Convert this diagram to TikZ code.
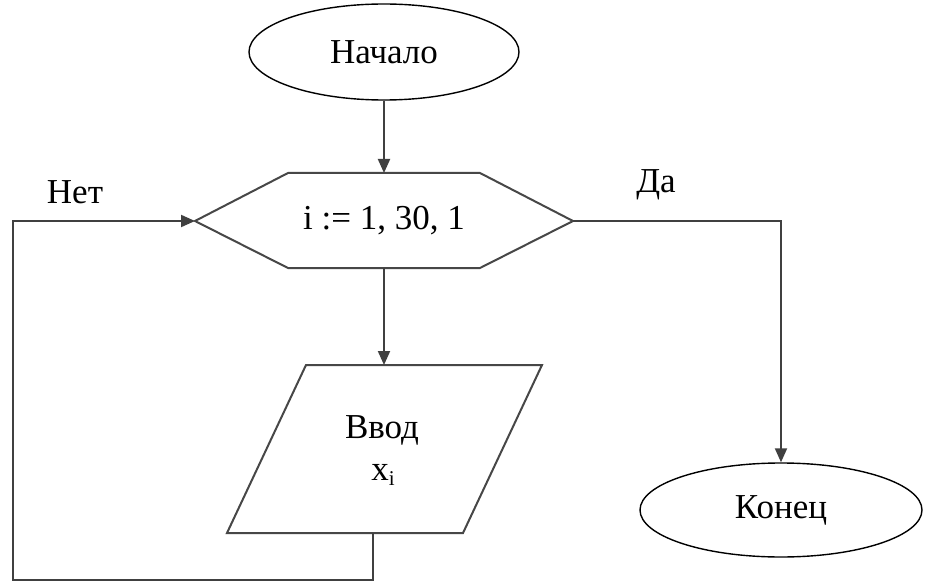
\documentclass[tikz,border=0pt]{standalone}
\usepackage{fontspec}
\setmainfont{Liberation Serif}
\usetikzlibrary{shapes.geometric,arrows.meta}
\begin{document}
\begin{tikzpicture}[x=1pt,y=-1pt,
  term/.style={ellipse,draw=black,line width=1.4pt,inner sep=0pt,font=\fontsize{35}{40}\selectfont},
  txt/.style={inner sep=0pt,font=\fontsize{35}{40}\selectfont},
  shapeline/.style={draw=black!72,line width=2pt,line join=miter},
  conn/.style={draw=black!75,line width=2pt},
  arr/.style={conn,-{Triangle[length=14pt,width=12pt]}}]
\useasboundingbox (0,0) rectangle (927,583);
\fill[white] (0,0) rectangle (927,583);
% start
\node[term,minimum width=270pt,minimum height=96pt] (start) at (384,52) {Начало};
% hexagon
\coordinate (hL) at (195,221);
\coordinate (hTL) at (288,173);
\coordinate (hT) at (384,173);
\coordinate (hTR) at (480,173);
\coordinate (hR) at (573,221);
\coordinate (hBR) at (480,268);
\coordinate (hB) at (384,268);
\coordinate (hBL) at (288,268);
\draw[shapeline] (hL) -- (hTL) -- (hTR) -- (hR) -- (hBR) -- (hBL) -- cycle;
\node[txt] (loop) at (384,221) {i := 1, 30, 1};
% parallelogram
\coordinate (pTL) at (306,365);
\coordinate (pT) at (384,365);
\coordinate (pTR) at (542,365);
\coordinate (pBR) at (463,533);
\coordinate (pB) at (373,533);
\coordinate (pBL) at (227,533);
\draw[shapeline] (pTL) -- (pTR) -- (pBR) -- (pBL) -- cycle;
\node[txt] (inp) at (382,430) {Ввод};
\node[txt] (xi) at (383,475) {x\raisebox{-5pt}{\fontsize{21}{22}\selectfont i}};
% end
\node[term,minimum width=282pt,minimum height=94pt] (end) at (781,510) {Конец};
% connectors
\draw[arr] (start.south) -- (hT);
\draw[arr] (hB) -- (pT);
\coordinate (c1) at (373,580);
\coordinate (c2) at (13,580);
\coordinate (c3) at (13,221);
\draw[arr] (pB) -- (c1) -- (c2) -- (c3) -- (hL);
\coordinate (c4) at (end.north |- hR);
\draw[arr] (hR) -- (c4) -- (end.north);
% labels
\node[txt] (no) at (75,192) {Нет};
\node[txt] (yes) at (656,185) {Да};
\end{tikzpicture}
\end{document}
